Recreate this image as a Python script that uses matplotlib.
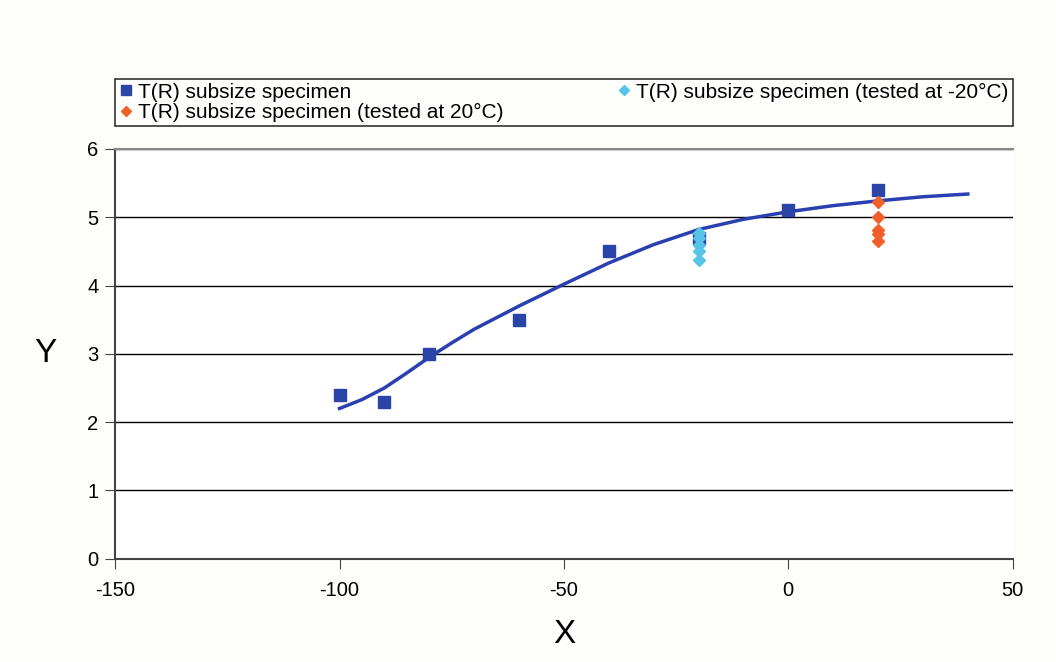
import numpy as np
import matplotlib.pyplot as plt

plt.rcParams['font.family'] = ['Liberation Sans', 'DejaVu Sans']
plt.rcParams['axes.unicode_minus'] = False

# Données
x_sq = [-100, -90, -80, -60, -40, -20, 0, 20]
y_sq = [2.4, 2.3, 3.0, 3.5, 4.5, 4.7, 5.1, 5.4]

x_cold = [-20, -20, -20, -20, -20]
y_cold = [4.77, 4.7, 4.6, 4.5, 4.38]

x_warm = [20, 20, 20, 20, 20]
y_warm = [5.22, 5.0, 4.82, 4.75, 4.65]

x_fit = [-100, -95, -90, -85, -80, -75, -70, -60, -50, -40, -30, -20, -10, 0, 10, 20, 30, 40]
y_fit = [2.2, 2.33, 2.5, 2.72, 2.95, 3.16, 3.36, 3.7, 4.02, 4.33, 4.6, 4.82, 4.97, 5.08, 5.17, 5.24, 5.3, 5.34]

fig = plt.figure(figsize=(10.56, 6.62), dpi=100, facecolor='#fdfdfa')
ax = fig.add_axes([0.109, 0.156, 0.850, 0.619])
ax.set_facecolor('white')

ax.plot(x_fit, y_fit, '-', color='#2a3fb0', lw=2.5, zorder=3, solid_joinstyle='round')
h1, = ax.plot(x_sq, y_sq, 's', color='#2a44a8', ms=8, ls='none', zorder=4,
              label='T(R) subsize specimen')
h3, = ax.plot(x_cold, y_cold, 'D', color='#55c4e8', ms=6, ls='none', zorder=5,
              label='T(R) subsize specimen (tested at -20°C)')
h2, = ax.plot(x_warm, y_warm, 'D', color='#f0602a', ms=6, ls='none', zorder=5,
              label='T(R) subsize specimen (tested at 20°C)')

ax.set_xlim(-150, 50)
ax.set_ylim(0, 6)
ax.set_xticks([-150, -100, -50, 0, 50])
ax.set_yticks([0, 1, 2, 3, 4, 5, 6])
ax.yaxis.grid(True, color='black', lw=1)
ax.set_axisbelow(True)
ax.tick_params(labelsize=14.5, direction='out', length=7, color='#444444')
ax.tick_params(axis='x', pad=9)
ax.tick_params(axis='y', pad=5)
for s in ['left', 'bottom']:
    ax.spines[s].set_color('#444444')
    ax.spines[s].set_linewidth(1.5)
ax.spines['top'].set_color('#888888')
ax.spines['top'].set_linewidth(1.5)
ax.spines['right'].set_visible(False)

ax.set_xlabel('X', fontsize=24, labelpad=14)
ax.set_ylabel('Y', fontsize=24, rotation=0, labelpad=30, va='center')

leg = fig.legend(handles=[h1, h2, h3], ncol=2, loc='center',
                 bbox_to_anchor=(0.109, 0.804, 0.850, 0.083), mode='expand',
                 fontsize=15, frameon=True, fancybox=False, edgecolor='black',
                 handlelength=0.6, handletextpad=0.3, borderpad=0.2,
                 labelspacing=0.05, borderaxespad=0, markerscale=0.9)
leg.get_frame().set_linewidth(1.2)

plt.savefig('out.png', dpi=100, facecolor=fig.get_facecolor())
